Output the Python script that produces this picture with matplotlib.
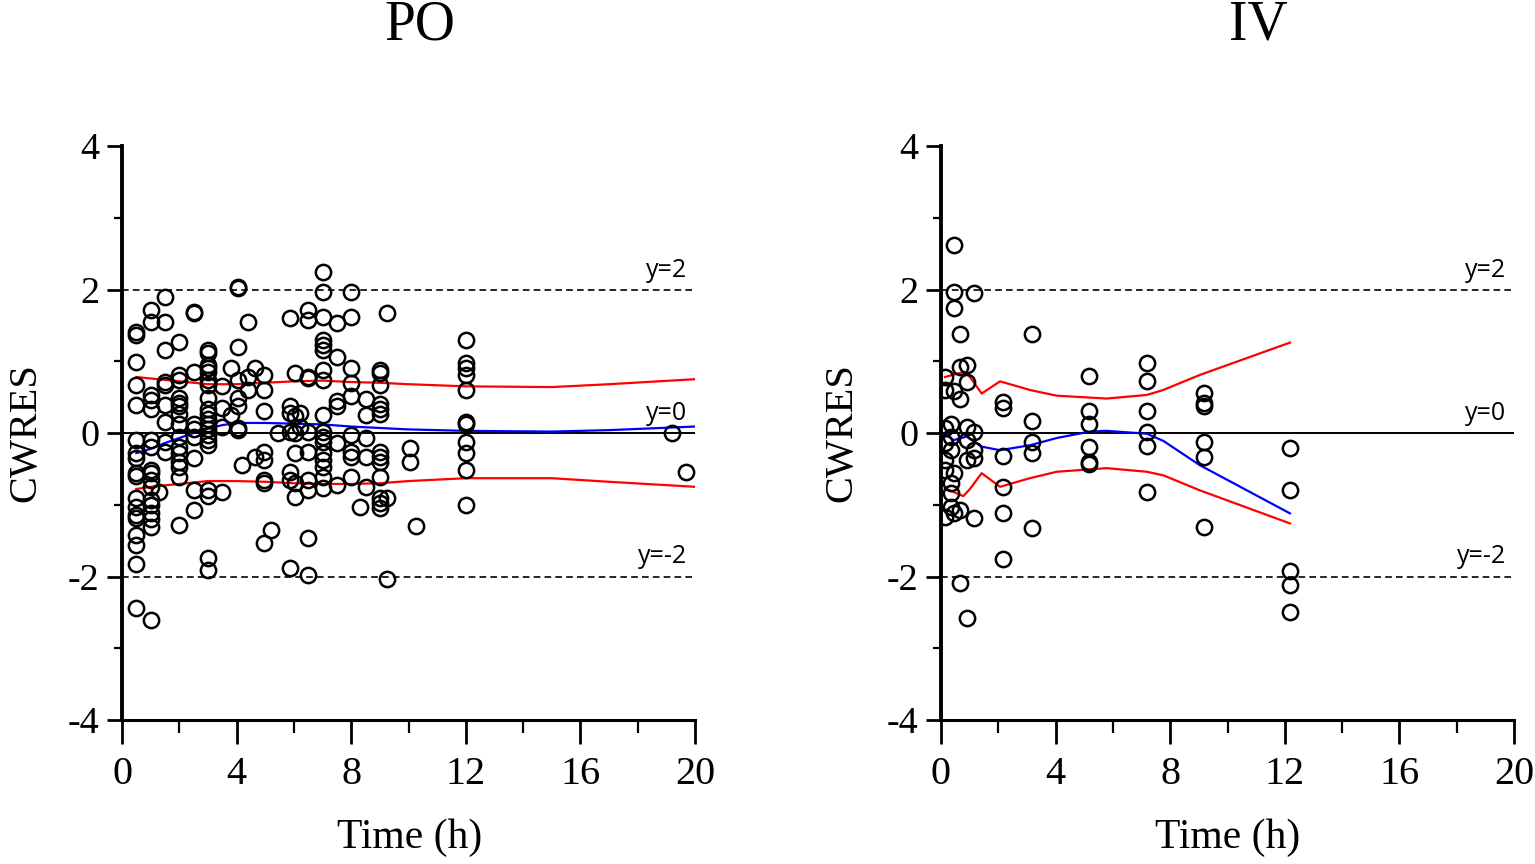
import matplotlib
matplotlib.use("Agg")
import matplotlib.pyplot as plt
from matplotlib.ticker import MultipleLocator

plt.rcParams["axes.unicode_minus"] = False

# ---------------- data ----------------
po_group_times = [0.5, 1.0, 1.3, 1.5, 2.0, 2.5, 3.0, 3.5, 3.8, 4.05, 4.2, 4.4, 4.65, 4.95,
                  5.2, 5.45, 5.85, 6.05, 6.2, 6.5, 7.0, 7.5, 8.0, 8.3, 8.5, 9.0, 9.25,
                  10.05, 10.25, 12.0, 19.2, 19.7]
po_group_cwres = [
    [1.41, 1.37, 0.99, 0.67, 0.39, -0.10, -0.28, -0.35, -0.56, -0.60, -0.91, -1.03, -1.14, -1.18, -1.42, -1.56, -1.82, -2.44],
    [1.71, 1.55, 0.53, 0.46, 0.34, -0.10, -0.19, -0.52, -0.56, -0.66, -0.75, -0.93, -1.00, -1.12, -1.20, -1.31, -2.61],
    [-0.82],
    [1.90, 1.55, 1.16, 0.71, 0.67, 0.39, 0.16, -0.12, -0.26],
    [1.27, 0.81, 0.74, 0.49, 0.42, 0.37, 0.27, 0.13, -0.05, -0.19, -0.28, -0.40, -0.47, -0.61, -1.28],
    [1.69, 1.67, 0.85, 0.12, 0.05, -0.05, -0.35, -0.79, -1.07],
    [1.16, 1.11, 0.95, 0.90, 0.85, 0.74, 0.67, 0.49, 0.34, 0.27, 0.20, 0.13, 0.06, -0.03, -0.10, -0.17, -0.79, -0.88, -1.74, -1.91],
    [0.65, 0.35, 0.09, -0.82],
    [0.90, 0.25],
    [2.04, 2.02, 1.20, 0.74, 0.49, 0.37, 0.07, 0.04],
    [-0.45],
    [1.55, 0.78, 0.60],
    [0.90, -0.33],
    [0.81, 0.60, 0.30, -0.26, -0.38, -0.66, -0.70, -1.54],
    [-1.35],
    [0.0],
    [1.60, 0.37, 0.28, 0.02, -0.54, -0.65, -1.88],
    [0.83, 0.23, 0.0, -0.28, -0.70, -0.89],
    [0.28, 0.09],
    [1.71, 1.57, 0.78, 0.76, 0.02, -0.26, -0.66, -0.79, -1.47, -1.98],
    [2.25, 1.97, 1.62, 1.30, 1.23, 1.16, 0.88, 0.74, 0.25, 0.02, -0.05, -0.12, -0.28, -0.37, -0.47, -0.61, -0.77],
    [1.53, 1.06, 0.44, 0.37, -0.14, -0.72],
    [1.97, 1.62, 0.90, 0.69, 0.51, -0.03, -0.26, -0.33, -0.61],
    [-1.03],
    [0.48, 0.25, -0.07, -0.33, -0.75],
    [0.88, 0.83, 0.67, 0.41, 0.34, 0.27, -0.26, -0.33, -0.40, -0.61, -0.91, -0.98, -1.05],
    [1.67, -0.91, -2.03],
    [-0.21, -0.40],
    [-1.30],
    [1.30, 0.97, 0.90, 0.81, 0.60, 0.16, 0.13, -0.12, -0.28, -0.52, -1.00],
    [0.0],
    [-0.55],
]

iv_group_times = [0.15, 0.35, 0.45, 0.65, 0.92, 1.15, 2.15, 3.18, 5.17, 7.18, 9.18, 12.18]
iv_group_cwres = [
    [0.78, 0.60, 0.07, -0.14, -0.38, -0.52, -1.17],
    [0.13, -0.05, -0.24, -0.70, -0.84, -1.03],
    [2.62, 1.97, 1.74, 0.59, -0.56, -1.12],
    [1.38, 0.92, 0.48, -1.07, -2.09],
    [0.95, 0.71, 0.09, -0.10, -0.38, -2.58],
    [1.95, 0.02, -0.24, -0.35, -1.18],
    [0.43, 0.35, -0.32, -0.75, -1.12, -1.75],
    [1.38, 0.17, -0.12, -0.28, -1.32],
    [0.79, 0.31, 0.12, -0.19, -0.40, -0.43],
    [0.98, 0.72, 0.30, 0.01, -0.18, -0.82],
    [0.56, 0.42, 0.38, -0.12, -0.34, -1.31],
    [-0.21, -0.79, -1.93, -2.12, -2.50],
]

po_band_t = [0.5, 1, 2, 3, 4, 5, 6, 7, 8, 9, 10, 12, 15, 17, 20]
po_upper = [0.78, 0.76, 0.72, 0.68, 0.68, 0.70, 0.72, 0.73, 0.71, 0.70, 0.68, 0.65, 0.64, 0.68, 0.75]
po_lower = [-0.78, -0.75, -0.71, -0.67, -0.67, -0.68, -0.70, -0.71, -0.71, -0.70, -0.67, -0.63, -0.63, -0.68, -0.75]
po_mid_t = [0.5, 1, 1.5, 2, 2.5, 3, 3.5, 4, 5, 6, 7, 8, 9, 10, 12, 15, 17, 20]
po_mid = [-0.28, -0.22, -0.14, -0.07, 0.0, 0.06, 0.11, 0.14, 0.14, 0.13, 0.12, 0.09, 0.07, 0.05, 0.03, 0.02, 0.04, 0.09]

iv_upper_t = [0.14, 0.78, 1.01, 1.42, 2.06, 3.1, 4.04, 5.78, 7.18, 7.76, 9.04, 12.18]
iv_upper = [0.78, 0.85, 0.78, 0.55, 0.72, 0.60, 0.52, 0.48, 0.53, 0.60, 0.81, 1.26]
iv_lower_t = [0.14, 0.78, 1.01, 1.42, 2.06, 3.1, 4.04, 5.78, 7.18, 7.76, 9.04, 12.18]
iv_lower = [-0.77, -0.88, -0.78, -0.56, -0.75, -0.63, -0.54, -0.49, -0.54, -0.59, -0.80, -1.26]
iv_mid_t = [0.14, 0.43, 0.9, 1.42, 2.06, 3.11, 4.04, 5.2, 5.78, 7.18, 7.76, 9.04, 12.18]
iv_mid = [0.0, -0.10, -0.05, -0.19, -0.24, -0.17, -0.07, 0.02, 0.03, -0.01, -0.11, -0.45, -1.12]

x_ticks = [0, 4, 8, 12, 16, 20]
y_ticks = [-4, -2, 0, 2, 4]
ref_lines = [2, 0, -2]
ref_labels = ["y=2", "y=0", "y=-2"]

# ---------------- figure ----------------
W, H = 1535, 864
fig = plt.figure(figsize=(W / 100, H / 100), dpi=100)
SERIF = ["Liberation Serif", "DejaVu Serif"]
SANS = ["Open Sans", "DejaVu Sans"]

AX_BOTTOM = 720
AX_H = 574
AX_W = 573


def make_panel(left_px, title, title_cx, ylab_cx, xlab_cx, gtimes, gvals, band, mid):
    ax = fig.add_axes([left_px / W, 1 - AX_BOTTOM / H, AX_W / W, AX_H / H])
    xs, ys = [], []
    for t, vals in zip(gtimes, gvals):
        for v in vals:
            xs.append(t)
            ys.append(v)
    ax.axhline(0, color="black", lw=1.4, zorder=1)
    ax.axhline(2, color="black", lw=1.2, ls=(0, (4, 2.5)), zorder=1)
    ax.axhline(-2, color="black", lw=1.2, ls=(0, (4, 2.5)), zorder=1)
    (ut, uv), (lt, lv) = band
    ax.plot(ut, uv, color="red", lw=1.6, zorder=2)
    ax.plot(lt, lv, color="red", lw=1.6, zorder=2)
    ax.plot(mid[0], mid[1], color="blue", lw=1.6, zorder=2)
    ax.plot(xs, ys, ls="none", marker="o", ms=11, mfc="none", mec="black", mew=1.8, zorder=3)

    ax.set_xlim(0, 20)
    ax.set_ylim(-4, 4)
    for s in ["top", "right"]:
        ax.spines[s].set_visible(False)
    ax.spines["left"].set_linewidth(2.8)
    ax.spines["bottom"].set_linewidth(2.2)
    ax.set_xticks(x_ticks)
    ax.set_yticks(y_ticks)
    ax.xaxis.set_minor_locator(MultipleLocator(2))
    ax.yaxis.set_minor_locator(MultipleLocator(1))
    ax.tick_params(axis="y", which="major", direction="out", length=11, width=2.0, labelsize=27.5, pad=5)
    ax.tick_params(axis="y", which="minor", direction="out", length=6, width=1.6)
    ax.tick_params(axis="x", which="major", direction="out", length=17, width=2.0, labelsize=29, pad=9)
    ax.tick_params(axis="x", which="minor", direction="out", length=9, width=1.6)
    for lab in ax.get_xticklabels() + ax.get_yticklabels():
        lab.set_fontfamily(SERIF)

    ax.set_xlabel("Time (h)", fontsize=30, family=SERIF)
    ax.xaxis.set_label_coords((xlab_cx - left_px) / AX_W, -(838 - AX_BOTTOM) / AX_H)
    ax.xaxis.label.set_verticalalignment("center")
    ax.set_ylabel("CWRES", fontsize=29, family=SERIF)
    ax.yaxis.set_label_coords((ylab_cx - left_px) / AX_W, (AX_BOTTOM - 433) / AX_H)
    ax.yaxis.label.set_verticalalignment("center")

    offsets = {2: 0.17, 0: 0.18, -2: 0.19}
    for yv, lab in zip(ref_lines, ref_labels):
        ax.text(19.72, yv + offsets[yv], lab, ha="right", va="baseline", fontsize=18, family=SANS)
    fig.text(title_cx / W, 1 - 40 / H, title, ha="center", va="baseline", fontsize=40, family=SERIF)
    return ax


make_panel(122, "PO", 420, 26, 410, po_group_times, po_group_cwres,
           ((po_band_t, po_upper), (po_band_t, po_lower)), (po_mid_t, po_mid))
make_panel(941, "IV", 1258, 842, 1228, iv_group_times, iv_group_cwres,
           ((iv_upper_t, iv_upper), (iv_lower_t, iv_lower)), (iv_mid_t, iv_mid))

fig.savefig("out.png", dpi=100)
